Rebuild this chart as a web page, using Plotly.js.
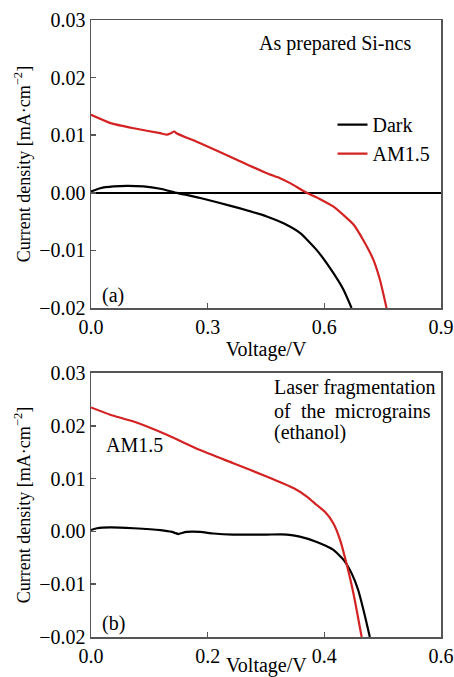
<!DOCTYPE html>
<html>
<head>
<meta charset="utf-8">
<script src="https://cdn.plot.ly/plotly-3.0.1.min.js"></script>
<style>html,body{margin:0;padding:0;background:#fff;}#chart{width:454px;height:677px;}</style>
</head>
<body>
<div id="chart"></div>
<script>
// Panel (a): As prepared Si-ncs
const topV_am = [0, 0.05, 0.11, 0.178, 0.195, 0.204, 0.214, 0.221, 0.281, 0.3665, 0.452, 0.486, 0.512, 0.555, 0.589, 0.623, 0.653, 0.675, 0.700, 0.726, 0.743, 0.760];
const topJ_am = [0.01353, 0.0121, 0.0112, 0.01035, 0.0101, 0.0103, 0.01064, 0.0103, 0.0086, 0.006, 0.0034, 0.00254, 0.00168, 0.0, -0.0011, -0.00237, -0.0041, -0.0055, -0.0082, -0.0116, -0.0151, -0.02];
const topV_dark = [0, 0.024, 0.058, 0.0925, 0.135, 0.178, 0.221, 0.281, 0.3665, 0.452, 0.495, 0.538, 0.580, 0.623, 0.649, 0.670];
const topJ_dark = [0.00023, 0.0008, 0.0011, 0.0012, 0.0011, 0.0007, 0.0, -0.0009, -0.0024, -0.0041, -0.0053, -0.007, -0.0099, -0.0139, -0.0168, -0.02];

// Panel (b): Laser fragmentation of the micrograins (ethanol)
const botV_am = [0, 0.0331, 0.0731, 0.130, 0.187, 0.244, 0.301, 0.347, 0.370, 0.387, 0.401, 0.4156, 0.427, 0.438, 0.450, 0.464];
const botJ_am = [0.02348, 0.0221, 0.0208, 0.0183, 0.0154, 0.0129, 0.0104, 0.0082, 0.0066, 0.005, 0.0037, 0.0015, -0.0016, -0.0061, -0.0118, -0.02];
const botV_dark = [0, 0.0103, 0.033, 0.073, 0.119, 0.139, 0.144, 0.150, 0.156, 0.164, 0.187, 0.210, 0.244, 0.301, 0.336, 0.358, 0.387, 0.4156, 0.433, 0.447, 0.458, 0.470, 0.478];
const botJ_dark = [0.00025, 0.0006, 0.00076, 0.0006, 0.00025, -0.0001, -0.0003, -0.0005, -0.0003, -0.0001, -0.0001, -0.0004, -0.0006, -0.0006, -0.0006, -0.001, -0.002, -0.0035, -0.0054, -0.008, -0.0111, -0.0162, -0.02];

const seriesNames = ['Dark', 'AM1.5'];
const RED = '#d42222';
const FONT = '"Liberation Serif", "Times New Roman", serif';

const traces = [
  {x: topV_dark, y: topJ_dark, name: seriesNames[0], type: 'scatter', mode: 'lines',
   line: {color: '#000', width: 2.2, shape: 'spline', smoothing: 0.5}, xaxis: 'x', yaxis: 'y'},
  {x: topV_am, y: topJ_am, name: seriesNames[1], type: 'scatter', mode: 'lines',
   line: {color: RED, width: 2.2, shape: 'spline', smoothing: 0.5}, xaxis: 'x', yaxis: 'y'},
  {x: botV_dark, y: botJ_dark, name: seriesNames[0], showlegend: false, type: 'scatter', mode: 'lines',
   line: {color: '#000', width: 2.2, shape: 'spline', smoothing: 0.5}, xaxis: 'x2', yaxis: 'y2'},
  {x: botV_am, y: botJ_am, name: seriesNames[1], showlegend: false, type: 'scatter', mode: 'lines',
   line: {color: RED, width: 2.2, shape: 'spline', smoothing: 0.5}, xaxis: 'x2', yaxis: 'y2'}
];

const axCommon = {
  showline: true, mirror: true, linecolor: '#555', linewidth: 1.5,
  ticks: 'inside', ticklen: 5, tickwidth: 1.5, tickcolor: '#555',
  showgrid: false, tickfont: {family: FONT, size: 20, color: '#000'},
  automargin: false
};

const layout = {
  width: 454, height: 677,
  margin: {l: 91, r: 13, t: 20, b: 40},
  paper_bgcolor: '#fff', plot_bgcolor: '#fff',
  font: {family: FONT, size: 20, color: '#000'},
  showlegend: true,
  legend: {x: 0.69, xanchor: 'left', y: 0.862, yanchor: 'top', bgcolor: 'rgba(0,0,0,0)',
           font: {family: FONT, size: 20, color: '#000'}, tracegroupgap: 0},
  xaxis: Object.assign({}, axCommon, {anchor: 'y', domain: [0, 1], range: [0, 0.9], dtick: 0.3, tick0: 0,
          tickformat: '.1f', zeroline: false,
          title: {text: 'Voltage/V', font: {family: FONT, size: 20}, standoff: 5}}),
  yaxis: Object.assign({}, axCommon, {anchor: 'x', domain: [0.5332, 1], range: [-0.02, 0.03], dtick: 0.01, tick0: 0,
          tickformat: '.2f', zeroline: true, zerolinecolor: '#000', zerolinewidth: 1.6,
          title: {text: 'Current density [mA·cm<sup>−2</sup>]', font: {family: FONT, size: 18}, standoff: 4}}),
  xaxis2: Object.assign({}, axCommon, {anchor: 'y2', domain: [0, 1], range: [0, 0.6], dtick: 0.2, tick0: 0,
          tickformat: '.1f', zeroline: false}),
  yaxis2: Object.assign({}, axCommon, {anchor: 'x2', domain: [0, 0.4279], range: [-0.02, 0.03], dtick: 0.01, tick0: 0,
          tickformat: '.2f', zeroline: false,
          title: {text: 'Current density [mA·cm<sup>−2</sup>]', font: {family: FONT, size: 18}, standoff: 4}}),
  annotations: [
    {xref: 'paper', yref: 'paper', x: 0.5, y: -0.046, xanchor: 'center', yanchor: 'middle', showarrow: false,
     text: 'Voltage/V', font: {family: FONT, size: 20}},
    {xref: 'x', yref: 'y', x: 0.4268, y: 0.026, xanchor: 'left', yanchor: 'middle', showarrow: false,
     text: 'As prepared Si-ncs', font: {family: FONT, size: 20}},
    {xref: 'x', yref: 'y', x: 0.0231, y: -0.01774, xanchor: 'left', yanchor: 'middle', showarrow: false,
     text: '(a)', font: {family: FONT, size: 20}},
    {xref: 'x2', yref: 'y2', x: 0.3103, y: 0.02716, xanchor: 'left', yanchor: 'middle', showarrow: false,
     text: 'Laser fragmentation', font: {family: FONT, size: 20}},
    {xref: 'x2', yref: 'y2', x: 0.3103, y: 0.0228, xanchor: 'left', yanchor: 'middle', showarrow: false,
     text: 'of', font: {family: FONT, size: 20}},
    {xref: 'x2', yref: 'y2', x: 0.3806, y: 0.0228, xanchor: 'center', yanchor: 'middle', showarrow: false,
     text: 'the', font: {family: FONT, size: 20}},
    {xref: 'x2', yref: 'y2', x: 0.5863, y: 0.0228, xanchor: 'right', yanchor: 'middle', showarrow: false,
     text: 'micrograins', font: {family: FONT, size: 20}},
    {xref: 'x2', yref: 'y2', x: 0.3103, y: 0.01864, xanchor: 'left', yanchor: 'middle', showarrow: false,
     text: '(ethanol)', font: {family: FONT, size: 20}},
    {xref: 'x2', yref: 'y2', x: 0.0223, y: 0.01636, xanchor: 'left', yanchor: 'middle', showarrow: false,
     text: 'AM1.5', font: {family: FONT, size: 20}},
    {xref: 'x2', yref: 'y2', x: 0.0154, y: -0.01735, xanchor: 'left', yanchor: 'middle', showarrow: false,
     text: '(b)', font: {family: FONT, size: 20}}
  ]
};

Plotly.newPlot('chart', traces, layout, {displayModeBar: false, staticPlot: true});
</script>
</body>
</html>
